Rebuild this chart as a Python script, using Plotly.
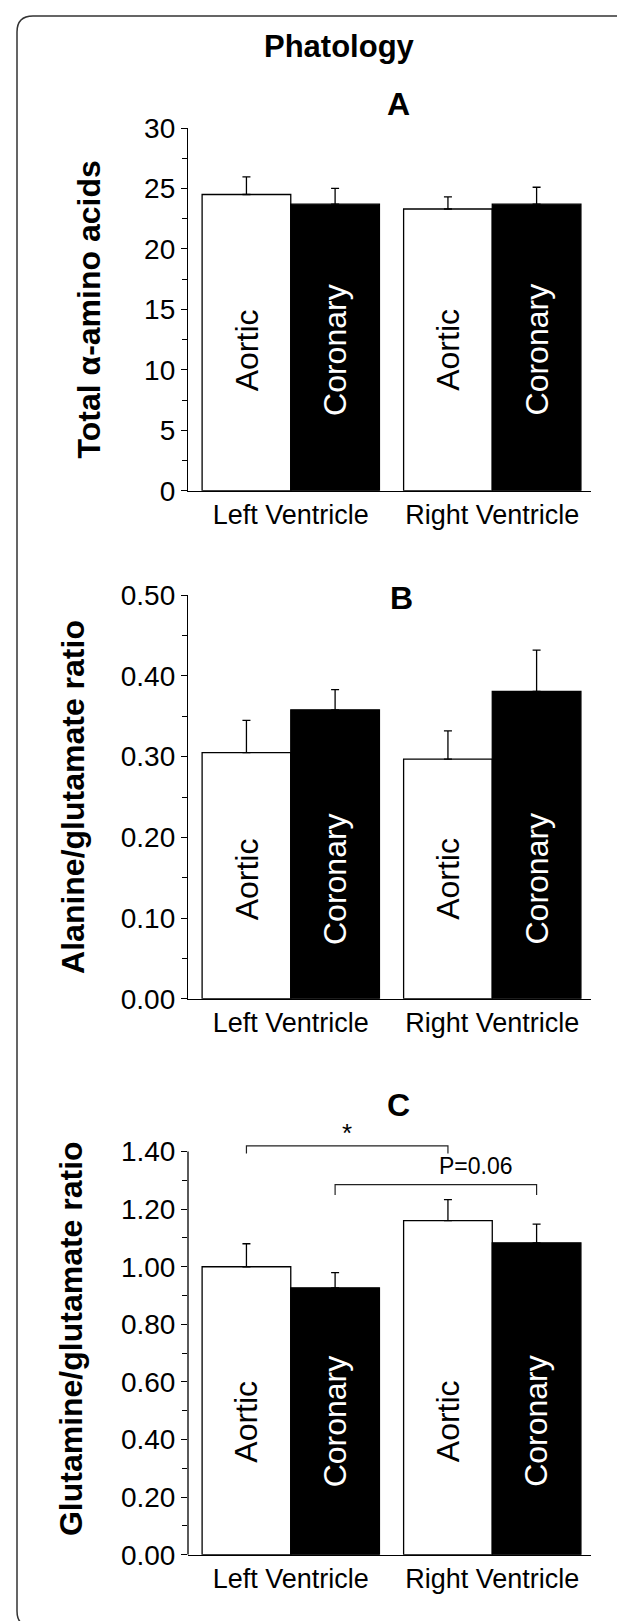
import plotly.graph_objects as go

W, H = 625, 1621

CATEGORIES = ["Left Ventricle", "Right Ventricle"]
SERIES = ["Aortic", "Coronary"]

# panel A: total alpha-amino acids
A_AORTIC = [24.5, 23.3]
A_AORTIC_ERR = [1.45, 1.0]
A_CORONARY = [23.7, 23.7]
A_CORONARY_ERR = [1.3, 1.4]

# panel B: alanine/glutamate ratio
B_AORTIC = [0.305, 0.297]
B_AORTIC_ERR = [0.040, 0.035]
B_CORONARY = [0.358, 0.381]
B_CORONARY_ERR = [0.025, 0.051]

# panel C: glutamine/glutamate ratio
C_AORTIC = [1.00, 1.16]
C_AORTIC_ERR = [0.08, 0.073]
C_CORONARY = [0.927, 1.083]
C_CORONARY_ERR = [0.053, 0.065]

# significance brackets in panel C: (series, label, height, leg length)
C_BRACKETS = [("Aortic", "*", 1.42, 0.027), ("Coronary", "P=0.06", 1.285, 0.036)]

Y_TITLES = ["Total \u03b1-amino acids", "Alanine/glutamate ratio", "Glutamine/glutamate ratio"]
PANEL_LETTERS = ["A", "B", "C"]

BARGAP = 0.12
FONT = "Liberation Sans, Arial, sans-serif"
NARROW = "Liberation Sans Narrow, Arial Narrow, Liberation Sans, sans-serif"


def px(x):
    return x / W


def py(y):
    return 1 - y / H


panels = [
    dict(aortic=A_AORTIC, aortic_err=A_AORTIC_ERR, coronary=A_CORONARY, coronary_err=A_CORONARY_ERR,
         yrange=[0, 30], dtick=5, fmt="d", dom=(482.7, 120.0), top=30, standoff=33),
    dict(aortic=B_AORTIC, aortic_err=B_AORTIC_ERR, coronary=B_CORONARY, coronary_err=B_CORONARY_ERR,
         yrange=[0, 0.5], dtick=0.1, fmt=".2f", dom=(990.7, 587.3), top=0.5, standoff=26),
    dict(aortic=C_AORTIC, aortic_err=C_AORTIC_ERR, coronary=C_CORONARY, coronary_err=C_CORONARY_ERR,
         yrange=[0, 1.5], dtick=0.2, fmt=".2f", dom=(1546.7, 1114.8), top=1.4, standoff=28),
]

half = (1 - BARGAP) / 4  # offset of each bar centre from its group centre
offsets = {"Aortic": -half, "Coronary": half}
xs = list(range(len(CATEGORIES)))

fig = go.Figure()
layout = {}
annotations = []
shapes = []

for i, p in enumerate(panels):
    n = "" if i == 0 else str(i + 1)
    xa, ya = "x" + n, "y" + n
    for name, vals, errs, fill, txt in [
        ("Aortic", p["aortic"], p["aortic_err"], "white", "black"),
        ("Coronary", p["coronary"], p["coronary_err"], "black", "white"),
    ]:
        fig.add_trace(go.Bar(
            x=xs, y=vals, name=name, xaxis=xa, yaxis=ya, showlegend=False,
            marker=dict(color=fill, line=dict(color="black", width=1.3)),
            error_y=dict(type="data", array=errs, arrayminus=[0] * len(errs), symmetric=False,
                         color="black", thickness=1.3, width=4),
        ))
        # labels sit at half the height of the shortest bar in the panel
        label_y = min(p["aortic"] + p["coronary"]) / 2
        for xi in xs:
            annotations.append(dict(
                x=xi + offsets[name], y=label_y, xref=xa, yref=ya, text=name,
                textangle=-90, showarrow=False,
                font=dict(family=FONT, size=32, color=txt),
            ))

    step = p["dtick"]
    majors = [k * step for k in range(int(round(p["top"] / step)) + 1)]
    minors = [m + step / 2 for m in majors[:-1]]
    layout["xaxis" + n] = dict(
        domain=[px(180), px(583)], anchor=ya, range=[-0.51, 1.49],
        tickvals=xs, ticktext=CATEGORIES, ticks="", showline=True, linecolor="black", linewidth=1.3,
        showgrid=False, zeroline=False, automargin=False,
        tickfont=dict(family=NARROW, size=27, color="black"),
    )
    layout["yaxis" + n] = dict(
        domain=[py(p["dom"][0]), py(p["dom"][1])], anchor=xa, range=p["yrange"],
        tickvals=majors, tickformat=p["fmt"], ticks="outside", ticklen=6, tickwidth=1.3, tickcolor="black",
        minor=dict(tickvals=minors, ticks="outside", ticklen=5, tickwidth=1.3, tickcolor="black"),
        showline=(i < 2), linecolor="black", linewidth=1.3,
        showgrid=False, zeroline=False, automargin=False,
        tickfont=dict(family=FONT, size=28, color="black"),
        title=dict(text=Y_TITLES[i], standoff=p["standoff"],
                   font=dict(family=FONT, size=32, color="black", weight="bold")),
    )
    if i == 2:
        # axis line stops at the last labelled tick, brackets live above it
        shapes.append(dict(type="line", xref="x3 domain", yref="y3", x0=0, x1=0, y0=0, y1=p["top"],
                           line=dict(color="black", width=1.3)))

# brackets on panel C
for series, label, h, leg in C_BRACKETS:
    x0, x1 = xs[0] + offsets[series], xs[1] + offsets[series]
    fig.add_trace(go.Scatter(
        x=[x0, x0, x1, x1], y=[h - leg, h, h, h - leg], mode="lines", xaxis="x3", yaxis="y3",
        line=dict(color="#222", width=1.2), showlegend=False, hoverinfo="skip", cliponaxis=False,
    ))

star_series, star_label, star_h, _ = C_BRACKETS[0]
annotations.append(dict(x=(xs[0] + xs[1]) / 2 + offsets[star_series], y=star_h, xref="x3", yref="y3",
                        text=star_label, showarrow=False, yanchor="bottom", yshift=-4,
                        font=dict(family=FONT, size=26, color="black")))
p_series, p_label, p_h, _ = C_BRACKETS[1]
annotations.append(dict(x=0.92, y=p_h, xref="x3", yref="y3", text=p_label, showarrow=False,
                        yanchor="bottom", yshift=4, font=dict(family=FONT, size=23, color="black")))

# panel letters and title
for letter, cx, cy in zip(PANEL_LETTERS, [390.6, 393.6, 390.0], [96, 590, 1097]):
    annotations.append(dict(x=px(cx), y=py(cy), xref="paper", yref="paper", text=letter,
                            showarrow=False, xanchor="center", yanchor="middle",
                            font=dict(family=FONT, size=32, color="black", weight="bold")))
annotations.append(dict(x=px(331), y=py(38), xref="paper", yref="paper", text="Phatology",
                        showarrow=False, xanchor="center", yanchor="middle",
                        font=dict(family=FONT, size=31, color="black", weight="bold")))

# rounded frame round the whole figure
x0, x1, y0, y1, r = 9, 623, 8, 1619, 16
path = (
    f"M{px(x0 + r)},{py(y0)} L{px(x1 - r)},{py(y0)} Q{px(x1)},{py(y0)} {px(x1)},{py(y0 + r)} "
    f"L{px(x1)},{py(y1 - r)} Q{px(x1)},{py(y1)} {px(x1 - r)},{py(y1)} "
    f"L{px(x0 + r)},{py(y1)} Q{px(x0)},{py(y1)} {px(x0)},{py(y1 - r)} "
    f"L{px(x0)},{py(y0 + r)} Q{px(x0)},{py(y0)} {px(x0 + r)},{py(y0)} Z"
)
shapes.append(dict(type="path", xref="paper", yref="paper", path=path, line=dict(color="#333", width=1.5)))

fig.update_layout(
    **layout,
    width=W, height=H,
    margin=dict(l=0, r=0, t=0, b=0),
    barmode="group", bargap=BARGAP, bargroupgap=0,
    plot_bgcolor="white", paper_bgcolor="white",
    annotations=annotations, shapes=shapes,
    font=dict(family=FONT, color="black"),
)

fig.write_html("out.html")
